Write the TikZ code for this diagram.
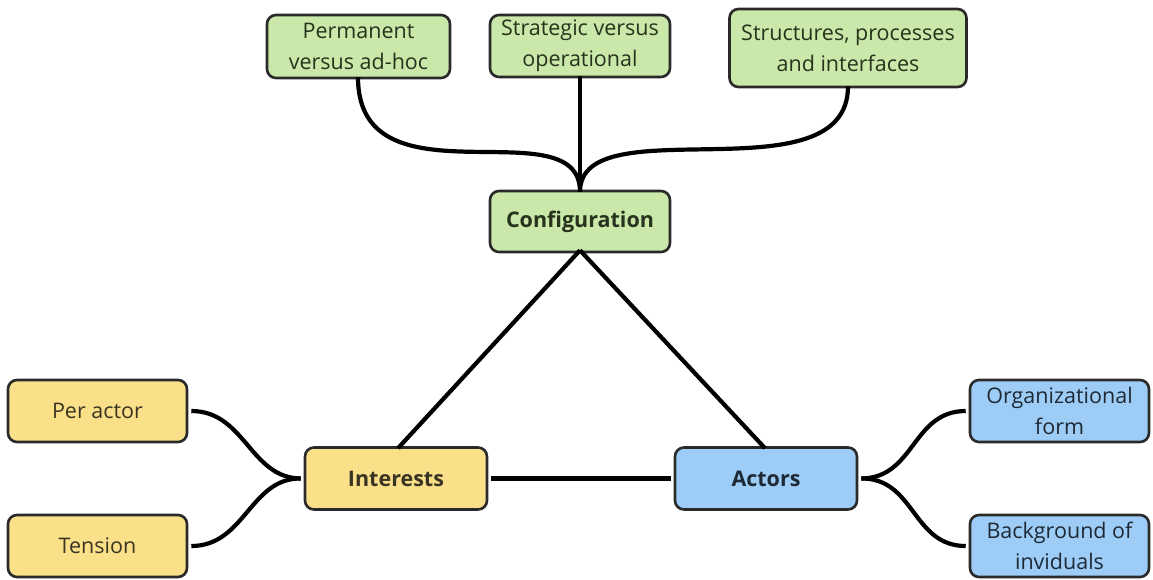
\documentclass[tikz,border=0pt]{standalone}
\usepackage{fontspec}
\setmainfont{Open Sans}
\definecolor{gfill}{HTML}{C9E8A9}
\definecolor{yfill}{HTML}{FBE08A}
\definecolor{bfill}{HTML}{9DCDF6}
\definecolor{bord}{HTML}{2A2A2A}
\definecolor{gtext}{HTML}{27331C}
\definecolor{ytext}{HTML}{3A3422}
\definecolor{btext}{HTML}{1E2936}
\begin{document}
\begin{tikzpicture}[x=1pt,y=-1pt,
  box/.style={draw=bord,line width=2.6pt,rounded corners=9pt,align=center,
    inner sep=0pt,font=\fontsize{21.5}{31}\selectfont},
  gbox/.style={box,fill=gfill,text=gtext},
  ybox/.style={box,fill=yfill,text=ytext},
  bbox/.style={box,fill=bfill,text=btext},
  link/.style={line width=4.2pt,black}]
\useasboundingbox (0,0) rectangle (1153,579);
\node[gbox,minimum width=183pt,minimum height=63pt] (perm) at (358.5,46.5) {Permanent\\versus ad-hoc};
\node[gbox,minimum width=180pt,minimum height=62pt] (strat) at (580,46) {Strategic versus\\operational};
\node[gbox,minimum width=237pt,minimum height=78pt] (struct) at (848,48) {Structures, processes\\and interfaces};
\node[gbox,minimum width=180pt,minimum height=61pt] (conf) at (580,221.5) {\bfseries Configuration};
\node[ybox,minimum width=179pt,minimum height=62pt] (per) at (97.5,411) {Per actor};
\node[ybox,minimum width=179pt,minimum height=62pt] (tens) at (97.5,546) {Tension};
\node[ybox,minimum width=182pt,minimum height=62pt] (int) at (396,478.5) {\bfseries Interests};
\node[bbox,minimum width=182pt,minimum height=62pt] (act) at (766,478.5) {\bfseries Actors};
\node[bbox,minimum width=179pt,minimum height=62pt] (org) at (1059.5,411) {Organizational\\form};
\node[bbox,minimum width=179pt,minimum height=62pt] (back) at (1059.5,546) {Background of\\inviduals};
% top branches
\draw[link] ([xshift=-0.5pt,yshift=2pt]perm.south) .. controls (358,210) and (580,105) .. ([yshift=-2pt]conf.north);
\draw[link] ([yshift=2pt]strat.south) -- ([yshift=-2pt]conf.north);
\draw[link] ([yshift=2pt]struct.south) .. controls (848,200) and (580,105) .. ([yshift=-2pt]conf.north);
% triangle
\draw[link] ([yshift=3pt]conf.south) -- ([xshift=2pt,yshift=-2pt]int.north);
\draw[link] ([yshift=3pt]conf.south) -- ([xshift=-1pt,yshift=-2pt]act.north);
\draw[link] ([xshift=3pt]int.east) -- ([xshift=-3pt]act.west);
% left branches
\draw[link] ([xshift=3pt]per.east) .. controls (245,411) and (250,478) .. ([xshift=-3pt]int.west);
\draw[link] ([xshift=3pt]tens.east) .. controls (245,546) and (250,478) .. ([xshift=-3pt]int.west);
% right branches
\draw[link] ([xshift=3pt]act.east) .. controls (915,478) and (912,411) .. ([xshift=-3pt]org.west);
\draw[link] ([xshift=3pt]act.east) .. controls (915,478) and (912,546) .. ([xshift=-3pt]back.west);
\end{tikzpicture}
\end{document}
